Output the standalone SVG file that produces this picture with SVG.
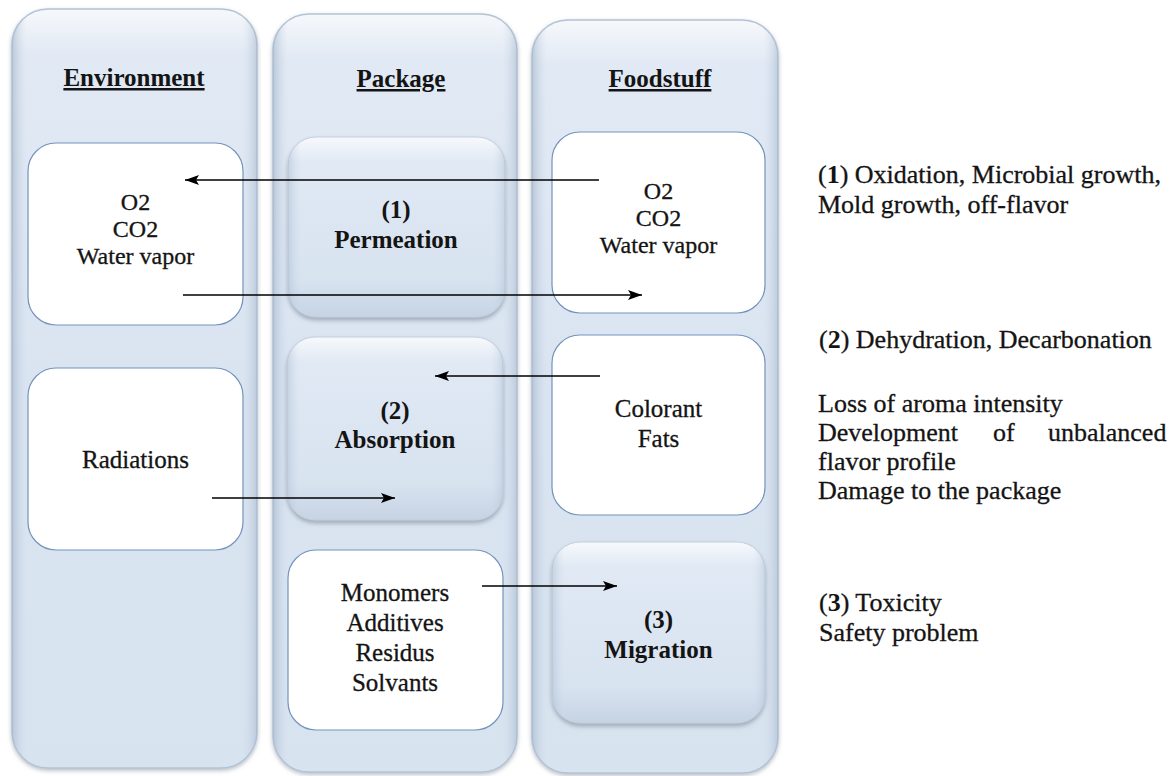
<svg xmlns="http://www.w3.org/2000/svg" width="1175" height="776" viewBox="0 0 1175 776">
  <style>
    .t { font-family: "Liberation Serif", Tinos, "Times New Roman", "DejaVu Serif", serif; font-size: 25px; fill: #141414; stroke: #141414; stroke-width: 0.3; }
    .s { font-size: 24px; }
    .r { font-size: 26px; }
    .c { text-anchor: middle; }
    .b { font-weight: bold; stroke-width: 0; }
    .u { text-decoration: underline; }
    .col { fill: url(#colFill); stroke: #b3c3d6; stroke-width: 1.5; filter: url(#shadow); }
    .colEdge { fill: url(#colEdge); stroke: none; }
    .plain { fill: #ffffff; stroke: #7393bb; stroke-width: 1.2; }
    .bevel { fill: url(#bevelFill); stroke: #c2cfdf; stroke-width: 1; filter: url(#shadowSmall); }
    .bevelEdge { fill: url(#colEdge); stroke: none; opacity: 0.7; }
    .link { stroke: #000; stroke-width: 1.6; fill: none; marker-end: url(#arrow); }
  </style>
  <defs>
    <linearGradient id="colFill" x1="0" y1="0" x2="0" y2="1">
      <stop offset="0" stop-color="#f6f8fb"/>
      <stop offset="0.06" stop-color="#e1e9f4"/>
      <stop offset="0.5" stop-color="#dae4f1"/>
      <stop offset="1" stop-color="#d8e3f0"/>
    </linearGradient>
    <linearGradient id="colEdge" x1="0" y1="0" x2="1" y2="0">
      <stop offset="0" stop-color="#9fb1c7" stop-opacity="0.6"/>
      <stop offset="0.06" stop-color="#c9d6e6" stop-opacity="0"/>
      <stop offset="0.94" stop-color="#c9d6e6" stop-opacity="0"/>
      <stop offset="1" stop-color="#9fb1c7" stop-opacity="0.5"/>
    </linearGradient>
    <linearGradient id="bevelFill" x1="0" y1="0" x2="0" y2="1">
      <stop offset="0" stop-color="#f7f9fc"/>
      <stop offset="0.14" stop-color="#e0e9f4"/>
      <stop offset="0.8" stop-color="#d8e3f0"/>
      <stop offset="1" stop-color="#c6d3e3"/>
    </linearGradient>
    <filter id="shadow" x="-10%" y="-5%" width="120%" height="110%">
      <feDropShadow dx="0" dy="2" stdDeviation="2" flood-color="#7d8794" flood-opacity="0.55"/>
    </filter>
    <filter id="shadowSmall" x="-10%" y="-10%" width="120%" height="125%">
      <feDropShadow dx="0" dy="3" stdDeviation="2" flood-color="#7d8794" flood-opacity="0.6"/>
    </filter>
    <marker id="arrow" viewBox="0 0 14 10" refX="14" refY="5" markerWidth="14" markerHeight="10" markerUnits="userSpaceOnUse" orient="auto">
      <path d="M0,0 L14,5 L0,10 L3,5 z" fill="#000"/>
    </marker>
  </defs>

  <rect width="1175" height="776" fill="#ffffff"/>

  <!-- Column: Environment -->
  <g id="col-environment">
    <rect class="col" x="12" y="9" width="245" height="759" rx="36"/>
    <rect class="colEdge" x="12" y="9" width="245" height="759" rx="36"/>
    <text class="t c b u" x="134" y="86" font-size="26">Environment</text>
  </g>

  <!-- Column: Package -->
  <g id="col-package">
    <rect class="col" x="273" y="14" width="244" height="758" rx="36"/>
    <rect class="colEdge" x="273" y="14" width="244" height="758" rx="36"/>
    <text class="t c b u" x="401" y="87" font-size="26">Package</text>
  </g>

  <!-- Column: Foodstuff -->
  <g id="col-foodstuff">
    <rect class="col" x="532" y="20" width="246" height="753" rx="36"/>
    <rect class="colEdge" x="532" y="20" width="246" height="753" rx="36"/>
    <text class="t c b u" x="660" y="87" font-size="26">Foodstuff</text>
  </g>

  <!-- Environment contents -->
  <g id="env-gases">
    <rect class="plain" x="28" y="143" width="215" height="182" rx="28"/>
    <text class="t s c" x="135.5" y="210">O2</text>
    <text class="t s c" x="135.5" y="237">CO2</text>
    <text class="t s c" x="135.5" y="264">Water vapor</text>
  </g>
  <g id="env-radiations">
    <rect class="plain" x="28" y="368" width="215" height="182" rx="28"/>
    <text class="t c" x="135.5" y="468">Radiations</text>
  </g>

  <!-- Package contents -->
  <g id="pkg-permeation">
    <rect class="bevel" x="288" y="137" width="217" height="180" rx="28"/>
    <rect class="bevelEdge" x="288" y="137" width="217" height="180" rx="28"/>
    <text class="t c b" x="396" y="218">(1)</text>
    <text class="t c b" x="396" y="248">Permeation</text>
  </g>
  <g id="pkg-absorption">
    <rect class="bevel" x="287" y="337" width="216" height="183" rx="28"/>
    <rect class="bevelEdge" x="287" y="337" width="216" height="183" rx="28"/>
    <text class="t c b" x="395" y="419">(2)</text>
    <text class="t c b" x="395" y="448">Absorption</text>
  </g>
  <g id="pkg-substances">
    <rect class="plain" x="288" y="550" width="215" height="180" rx="28"/>
    <text class="t c" x="395" y="601">Monomers</text>
    <text class="t c" x="395" y="631">Additives</text>
    <text class="t c" x="395" y="661">Residus</text>
    <text class="t c" x="395" y="691">Solvants</text>
  </g>

  <!-- Foodstuff contents -->
  <g id="food-gases">
    <rect class="plain" x="552" y="132" width="213" height="181" rx="28"/>
    <text class="t s c" x="658.5" y="199">O2</text>
    <text class="t s c" x="658.5" y="226">CO2</text>
    <text class="t s c" x="658.5" y="253">Water vapor</text>
  </g>
  <g id="food-components">
    <rect class="plain" x="552" y="335" width="213" height="180" rx="28"/>
    <text class="t c" x="658.5" y="417">Colorant</text>
    <text class="t c" x="658.5" y="447">Fats</text>
  </g>
  <g id="food-migration">
    <rect class="bevel" x="552" y="542" width="213" height="181" rx="28"/>
    <rect class="bevelEdge" x="552" y="542" width="213" height="181" rx="28"/>
    <text class="t c b" x="658.5" y="628">(3)</text>
    <text class="t c b" x="658.5" y="658">Migration</text>
  </g>

  <!-- Consequences -->
  <g id="effects">
    <text class="t r" x="818" y="183"><tspan>(</tspan><tspan class="b">1</tspan><tspan>) Oxidation, Microbial growth,</tspan></text>
    <text class="t r" x="818" y="213">Mold growth, off-flavor</text>
    <text class="t r" x="819" y="348"><tspan>(</tspan><tspan class="b">2</tspan><tspan>) Dehydration, Decarbonation</tspan></text>
    <text class="t r" x="818" y="412">Loss of aroma intensity</text>
    <text class="t r" y="441"><tspan x="818">Development</tspan><tspan x="993">of</tspan><tspan x="1048">unbalanced</tspan></text>
    <text class="t r" x="818" y="470">flavor profile</text>
    <text class="t r" x="818" y="499">Damage to the package</text>
    <text class="t r" x="819" y="611"><tspan>(</tspan><tspan class="b">3</tspan><tspan>) Toxicity</tspan></text>
    <text class="t r" x="819" y="641">Safety problem</text>
  </g>

  <!-- Connectors -->
  <g id="connectors">
    <line class="link" x1="599" y1="180" x2="185" y2="180"/>
    <line class="link" x1="183" y1="295" x2="642" y2="295"/>
    <line class="link" x1="600" y1="376" x2="435" y2="376"/>
    <line class="link" x1="212" y1="498" x2="395" y2="498"/>
    <line class="link" x1="482" y1="586" x2="617" y2="586"/>
  </g>
</svg>
